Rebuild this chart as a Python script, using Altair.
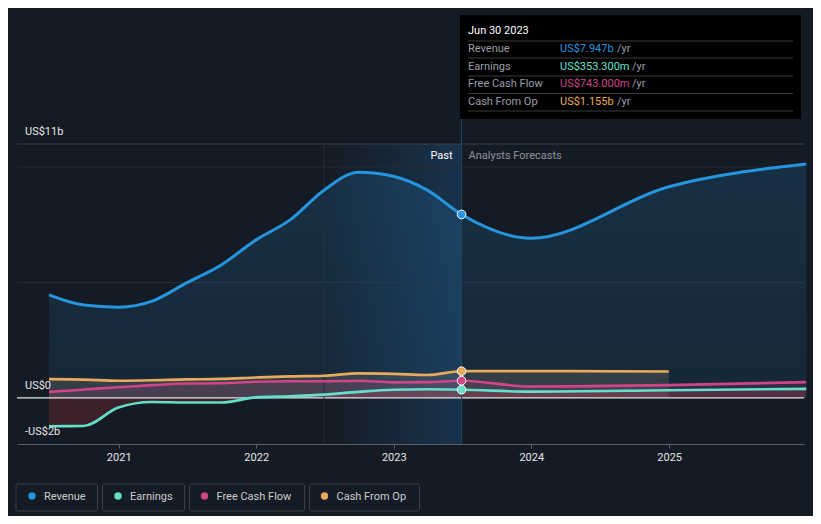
import altair as alt
import pandas as pd

# ---------------- data ----------------
series_names = ["Revenue", "Earnings", "Free Cash Flow", "Cash From Op"]
series_colors = ["#2595e0", "#62e0cb", "#cf4588", "#e8ab5c"]

past_dates = ["2020-06-30", "2020-09-30", "2020-12-31", "2021-03-31", "2021-06-30",
              "2021-09-30", "2021-12-31", "2022-03-31", "2022-06-30", "2022-09-30",
              "2022-12-31", "2023-03-31", "2023-06-30"]
forecast_dates = ["2023-12-31", "2024-12-31", "2025-12-31"]

revenue_past = [4.46, 4.02, 3.93, 4.19, 4.98, 5.76, 6.84, 7.7, 9.0, 9.78, 9.6, 9.0, 7.947]
revenue_forecast = [6.92, 9.15, 10.13]
earnings_past = [-1.23, -1.22, -0.42, -0.18, -0.2, -0.2, 0.02, 0.07, 0.14, 0.26, 0.35, 0.37, 0.3533]
earnings_forecast = [0.27, 0.33, 0.39]
fcf_past = [0.26, 0.36, 0.46, 0.55, 0.62, 0.63, 0.7, 0.72, 0.72, 0.74, 0.67, 0.68, 0.743]
fcf_forecast = [0.49, 0.55, 0.68]
cfo_past = [0.81, 0.79, 0.74, 0.76, 0.8, 0.82, 0.88, 0.93, 0.96, 1.06, 1.04, 0.99, 1.155]
cfo_forecast = [1.16, 1.14]

year_ticks = [2021, 2022, 2023, 2024, 2025]
y_label_values = [11, 0, -2]
y_label_texts = ["US$11b", "US$0", "-US$2b"]
grid_values = [5, 10]
top_value = 11

past_start = "2022-06-30"
past_end = "2023-06-30"

tooltip_title = "Jun 30 2023"
tooltip_values = ["US$7.947b", "US$353.300m", "US$743.000m", "US$1.155b"]

# ---------------- tables ----------------
past_map = {"Revenue": revenue_past, "Earnings": earnings_past,
            "Free Cash Flow": fcf_past, "Cash From Op": cfo_past}
fc_map = {"Revenue": revenue_forecast, "Earnings": earnings_forecast,
          "Free Cash Flow": fcf_forecast, "Cash From Op": cfo_forecast}
rows = []
for s in series_names:
    for d, v in zip(past_dates, past_map[s]):
        rows.append({"series": s, "date": d, "value": v})
    for d, v in zip(forecast_dates, fc_map[s]):
        rows.append({"series": s, "date": d, "value": v})
df = pd.DataFrame(rows)
marker_df = pd.DataFrame([{"series": s, "date": past_end, "value": past_map[s][-1]} for s in series_names])

BG = "#151b24"
x_scale = alt.Scale(domain=[alt.DateTime(year=2020, month=4, date=6),
                            alt.DateTime(year=2025, month=12, date=25)])
x_axis = alt.Axis(values=[alt.DateTime(year=y, month=1, date=1) for y in year_ticks],
                  format="%Y", title=None, grid=False, labelColor="#e4e6ea",
                  labelFontSize=11, labelFont="Roboto", tickColor="#5a606b",
                  domainColor="#5a606b", tickSize=4, labelPadding=3)
y_scale = alt.Scale(domain=[-2, 11], nice=False, zero=False)


def X(field="date"):
    return alt.X(f"{field}:T", scale=x_scale, axis=x_axis)


def Y(field="value"):
    return alt.Y(f"{field}:Q", scale=y_scale, axis=None)


color_enc = alt.Color("series:N", scale=alt.Scale(domain=series_names, range=series_colors), legend=None)
dummy = pd.DataFrame({"a": [0]})

layers = []

# past shading
past_df = pd.DataFrame({"start": [past_start], "end": [past_end]})
layers.append(alt.Chart(past_df).mark_rect(
    fill=alt.LinearGradient(gradient="linear", x1=0, x2=1, y1=0, y2=0,
                            stops=[alt.GradientStop(color=BG, offset=0),
                                   alt.GradientStop(color="#19334d", offset=1)])
).encode(x=X("start"), x2="end:T", y=alt.value(0), y2=alt.value(300)))

# grid lines
layers.append(alt.Chart(pd.DataFrame({"value": grid_values})).mark_rule(color="#252c37", strokeWidth=1)
              .encode(y=Y()))
layers.append(alt.Chart(pd.DataFrame({"value": [top_value]})).mark_rule(color="#3a414c", strokeWidth=1)
              .encode(y=Y()))

# areas
layers.append(alt.Chart(df[df.series == "Revenue"]).mark_area(
    interpolate="monotone",
    fill=alt.LinearGradient(gradient="linear", x1=0, x2=0, y1=0, y2=1,
                            stops=[alt.GradientStop(color="rgba(37,149,224,0.17)", offset=0),
                                   alt.GradientStop(color="rgba(37,149,224,0.10)", offset=1)])
).encode(x=X(), y=Y(), y2=alt.datum(0)))
layers.append(alt.Chart(df[df.series == "Cash From Op"]).mark_area(
    interpolate="monotone", color="#9a8f80", opacity=0.22).encode(x=X(), y=Y(), y2=alt.datum(0)))
layers.append(alt.Chart(df[df.series == "Free Cash Flow"]).mark_area(
    interpolate="monotone", color="#cf4588", opacity=0.14).encode(x=X(), y=Y(), y2=alt.datum(0)))
layers.append(alt.Chart(df[df.series == "Earnings"]).mark_area(
    interpolate="monotone", color="#dc3c46", opacity=0.2).encode(x=X(), y=Y(), y2=alt.datum(0)))

# zero line
layers.append(alt.Chart(pd.DataFrame({"value": [0]})).mark_rule(color="#e6e6e6", strokeWidth=1.2)
              .encode(y=Y()))

# vertical separators
layers.append(alt.Chart(pd.DataFrame({"date": [past_start]})).mark_rule(color="#1f3246", strokeWidth=1)
              .encode(x=X(), y=alt.value(0), y2=alt.value(300)))
layers.append(alt.Chart(pd.DataFrame({"date": [past_end]})).mark_rule(color="#25445f", strokeWidth=1)
              .encode(x=X(), y=alt.value(-30), y2=alt.value(300)))

# lines
layers.append(alt.Chart(df[df.series != "Revenue"]).mark_line(interpolate="monotone", strokeWidth=2.6)
              .encode(x=X(), y=Y(), color=color_enc, detail="series:N"))
layers.append(alt.Chart(df[df.series == "Revenue"]).mark_line(interpolate="monotone", strokeWidth=3)
              .encode(x=X(), y=Y(), color=color_enc))

# markers
layers.append(alt.Chart(marker_df).mark_circle(size=75, opacity=1, stroke="#ffffff", strokeWidth=1)
              .encode(x=X(), y=Y(), color=color_enc))

# past / forecast labels
layers.append(alt.Chart(pd.DataFrame({"date": [past_end]})).mark_text(
    text="Past", align="right", baseline="middle", dx=-9, fontSize=11, font="Roboto", color="#ffffff"
).encode(x=X(), y=alt.value(12)))
layers.append(alt.Chart(pd.DataFrame({"date": [past_end]})).mark_text(
    text="Analysts Forecasts", align="left", baseline="middle", dx=7, fontSize=11, font="Roboto",
    color="#8d929b").encode(x=X(), y=alt.value(12)))

# y labels
layers.append(alt.Chart(pd.DataFrame({"value": y_label_values, "label": y_label_texts})).mark_text(
    align="left", baseline="middle", dy=-12, fontSize=11, font="Roboto", color="#e4e6ea"
).encode(x=alt.value(8), y=Y(), text="label:N"))

# tooltip box
layers.append(alt.Chart(dummy).mark_rect(fill="#000000").encode(
    x=alt.value(443), x2=alt.value(784), y=alt.value(-129), y2=alt.value(-25)))
for sy in [-103, -86, -68, -50.5, -33]:
    layers.append(alt.Chart(dummy).mark_rule(color="#3a3a3a", strokeWidth=1).encode(
        x=alt.value(451), x2=alt.value(776), y=alt.value(sy)))
layers.append(alt.Chart(dummy).mark_text(text=tooltip_title, align="left", baseline="middle",
                                         fontSize=11, font="Roboto", color="#ffffff")
              .encode(x=alt.value(451), y=alt.value(-113)))
row_y = [-95, -77.5, -60, -42.5]
yr_x = [600, 615, 615, 600]
for name, val, col, ry, yx in zip(series_names, tooltip_values, series_colors, row_y, yr_x):
    layers.append(alt.Chart(dummy).mark_text(text=name, align="left", baseline="middle", fontSize=11,
                                             font="Roboto", color="#9a9ea6")
                  .encode(x=alt.value(451), y=alt.value(ry)))
    layers.append(alt.Chart(dummy).mark_text(text=val, align="left", baseline="middle", fontSize=11,
                                             font="Roboto", color=col)
                  .encode(x=alt.value(543), y=alt.value(ry)))
    layers.append(alt.Chart(dummy).mark_text(text="/yr", align="left", baseline="middle", fontSize=11,
                                             font="Roboto", color="#9a9ea6")
                  .encode(x=alt.value(yx), y=alt.value(ry)))

# legend
box_l = [-1, 85.5, 172.5, 292.5]
box_r = [80.5, 167.5, 287.5, 402.5]
dot_x = [15, 101, 187.5, 307.5]
for name, col, bl, br, dx_ in zip(series_names, series_colors, box_l, box_r, dot_x):
    layers.append(alt.Chart(dummy).mark_rect(fill=BG, stroke="#3b414c", strokeWidth=1, cornerRadius=2)
                  .encode(x=alt.value(bl), x2=alt.value(br), y=alt.value(340), y2=alt.value(367)))
    layers.append(alt.Chart(dummy).mark_point(filled=True, shape="circle", size=55, color=col, opacity=1)
                  .encode(x=alt.value(dx_), y=alt.value(352)))
    layers.append(alt.Chart(dummy).mark_text(text=name, align="left", baseline="middle", fontSize=11,
                                             font="Roboto", color="#c9ccd2")
                  .encode(x=alt.value(dx_ + 12), y=alt.value(352.5)))

chart = alt.layer(*layers).properties(
    width=787, height=300,
    padding={"left": 9, "top": 136, "right": 9, "bottom": 72},
    autosize=alt.AutoSizeParams(type="none"),
    background=BG,
).configure_view(stroke=None)

chart.save("out.html", embed_options={"renderer": "svg", "actions": False})
